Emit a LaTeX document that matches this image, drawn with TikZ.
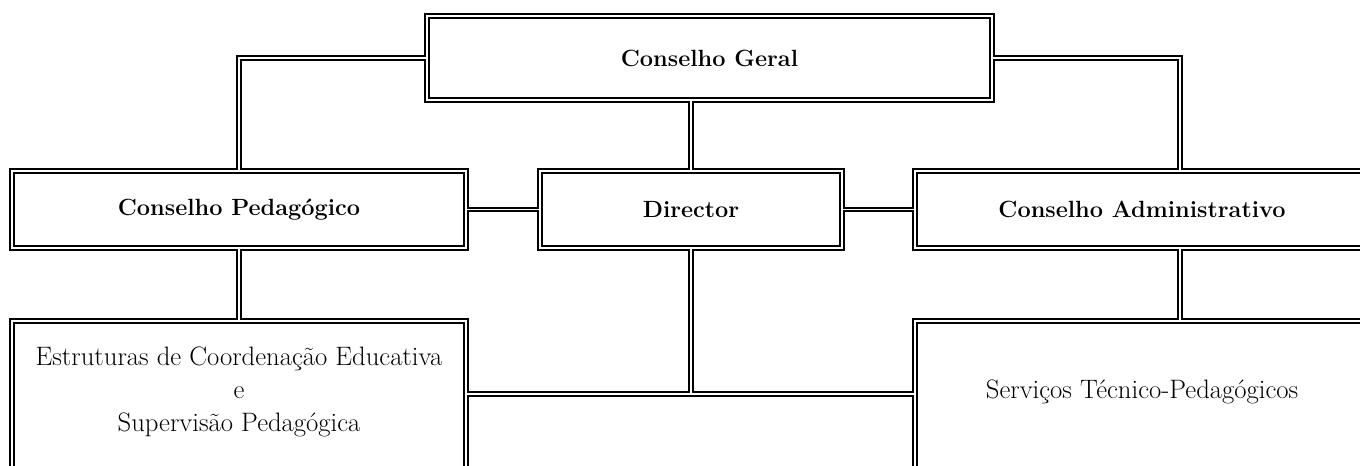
\documentclass[tikz,border=0pt]{standalone}
\usepackage{fontspec}
\usepackage{tikz}

\tikzset{
  orgbox/.style={inner sep=0pt, align=center, font=\fontsize{17.6}{22}\selectfont\bfseries},
  lowbox/.style={inner sep=0pt, align=center, font=\fontsize{20}{25}\selectfont},
  dline/.style={double, double distance=1.3pt, line width=1.45pt, line join=miter},
}

\begin{document}
\begin{tikzpicture}[x=0.75pt, y=-0.75pt]
    \useasboundingbox (0,0) rectangle (1360,466);
    \clip (0,0) rectangle (1360,466);
    % boxes set with absolute coordinates (pixel grid)
    \node[orgbox, minimum width=423.75pt, minimum height=63pt] (geral) at (709.5,58) {Conselho Geral};
    \node[orgbox, minimum width=340.5pt, minimum height=57.75pt] (ped) at (239,209.5) {Conselho Pedagógico};
    \node[orgbox, minimum width=226.5pt, minimum height=57.75pt] (dir) at (691,209.5) {Director};
    \node[orgbox, minimum width=340.5pt, minimum height=57.75pt] (adm) at (1142,209.5) {Conselho Administrativo};
    \node[lowbox, minimum width=340.5pt, minimum height=106.5pt] (est) at (239,392) {Estruturas de Coordenação Educativa\\e\\Supervisão Pedagógica};
    \node[lowbox, minimum width=340.5pt, minimum height=106.5pt] (srv) at (1142,392) {Serviços Técnico-Pedagógicos};
    % helper points
    \coordinate (bot) at (0,490);
    \coordinate (ra) at (1180,0);
    \coordinate (mid) at (691,394);
    % frames and links in one double path
    \draw[dline]
      (geral.north west) rectangle (geral.south east)
      (ped.north west) rectangle (ped.south east)
      (dir.north west) rectangle (dir.south east)
      (adm.north west) rectangle (adm.south east)
      (est.north west) rectangle (est.east |- bot)
      (srv.north west) rectangle (srv.east |- bot)
      (geral.west) -| (ped.north)
      (geral.east) -| (ra |- adm.north)
      (dir.north |- geral.south) -- (dir.north)
      (ped.east) -- (dir.west)
      (dir.east) -- (adm.west)
      (ped.south) -- (est.north)
      (ra |- adm.south) -- (ra |- srv.north)
      (dir.south) -- (mid)
      (est.east |- mid) -- (srv.west |- mid);
\end{tikzpicture}
\end{document}
